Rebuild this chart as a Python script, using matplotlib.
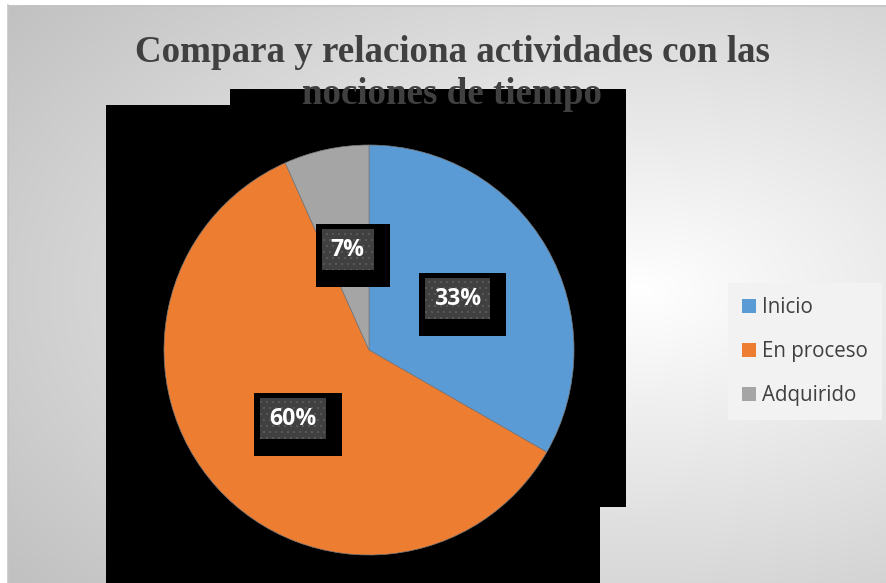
import numpy as np
import matplotlib
matplotlib.use("Agg")
import matplotlib.pyplot as plt
from matplotlib.patches import Rectangle, Polygon, Patch
import matplotlib.transforms as mtransforms

# ---- data ----
categories = ["Inicio", "En proceso", "Adquirido"]
values = [33.3, 60.0, 6.7]
colors = ["#5B9BD5", "#ED7D31", "#A5A5A5"]
title_lines = ["Compara y relaciona actividades con las", "nociones de tiempo"]

# ---- layout (pixels) ----
W, H = 886, 583
DPI = 72
black_shape = [(106, 583), (106, 105), (230, 105), (230, 89), (626, 89),
               (626, 507), (600, 507), (600, 583)]

fig = plt.figure(figsize=(W / DPI, H / DPI), dpi=DPI, facecolor="white")

bg = fig.add_axes([0, 0, 1, 1])
bg.axis("off")

# radial gradient background
yy, xx = np.mgrid[5:H, 8:W].astype(float)
cx, cy = 640, 290
d = np.sqrt(((xx - cx) / 720) ** 2 + ((yy - cy) / 420) ** 2)
v = 1 - 0.22 * np.clip(d, 0, 1.2) ** 1.0
v = np.clip(v, 0.76, 1)
img = np.dstack([v, v, v])
bg.imshow(img, extent=(8, W, H, 5), aspect="auto", zorder=0, interpolation="bilinear")
bg.plot([8, W], [5.5, 5.5], color="#c4c4c4", lw=1.5, zorder=1)
bg.plot([8.5, 8.5], [5, H], color="#c4c4c4", lw=1.5, zorder=1)
bg.add_patch(Polygon(black_shape, closed=True, fc="black", ec="none", zorder=2))
bg.set_xlim(0, W)
bg.set_ylim(H, 0)

# title
bg.text(452, 62, title_lines[0], ha="center", va="baseline", fontsize=37,
        family="Liberation Serif", weight="bold", color="#404040", zorder=5)
bg.text(452, 104, title_lines[1], ha="center", va="baseline", fontsize=37,
        family="Liberation Serif", weight="bold", color="#404040", zorder=5)

# pie
cxp, cyp, r = 369, 350, 205
ax = fig.add_axes([(cxp - r) / W, (H - cyp - r) / H, 2 * r / W, 2 * r / H])
ax.set_facecolor("none")
wedges, texts, autotexts = ax.pie(
    values, colors=colors, startangle=90, counterclock=False,
    autopct="%.0f%%", pctdistance=0.5, radius=1,
    wedgeprops=dict(linewidth=0.7, edgecolor="#7a7a7a"),
    textprops=dict(color="white", fontsize=23, family="Open Sans", weight="bold"),
)
ax.set_xlim(-1, 1)
ax.set_ylim(-1, 1)
ax.set_aspect("auto")
ax.axis("off")
for t in autotexts:
    t.set_zorder(10)

fig.canvas.draw()
renderer = fig.canvas.get_renderer()
ident = mtransforms.IdentityTransform()
for t in autotexts:
    bb = t.get_window_extent(renderer)
    xc = (bb.x0 + bb.x1) / 2
    yc = (bb.y0 + bb.y1) / 2
    gw = bb.width + 18
    gh = 41
    gx0, gy0 = xc - gw / 2, yc - gh / 2
    black = Rectangle((gx0 - 6, gy0 - 17), gw + 22, gh + 22, transform=ident,
                      fc="black", ec="none", zorder=8)
    grey = Rectangle((gx0, gy0), gw, gh, transform=ident, fc="#404040",
                     ec="#5a5a5a", lw=0, hatch="..", zorder=9)
    ax.add_artist(black)
    ax.add_artist(grey)
    black.set_clip_on(False)
    grey.set_clip_on(False)

# legend
handles = [Patch(facecolor=c, edgecolor="none") for c in colors]
leg = fig.legend(handles, categories, loc="upper left",
                 bbox_to_anchor=(728 / W, 1 - 283 / H), borderaxespad=0,
                 frameon=True, fancybox=False, framealpha=1,
                 facecolor="#f2f2f2", edgecolor="none",
                 prop=dict(family="Open Sans", size=20.5),
                 handlelength=0.68, handleheight=0.68, handletextpad=0.3,
                 labelspacing=1.12, borderpad=0.68)
for txt in leg.get_texts():
    txt.set_color("#404040")

fig.savefig("out.png", dpi=DPI, facecolor="white")
